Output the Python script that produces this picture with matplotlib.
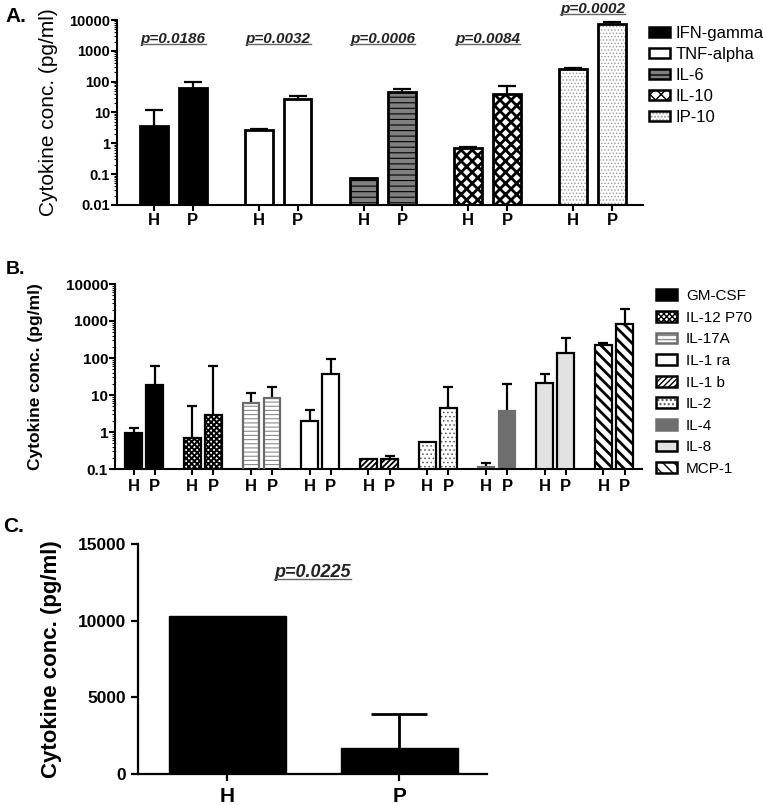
import matplotlib
matplotlib.use('Agg')
import matplotlib.pyplot as plt
import numpy as np
from matplotlib.patches import Patch
from matplotlib.legend_handler import HandlerTuple
from matplotlib.lines import Line2D
from matplotlib.ticker import FixedLocator, LogLocator, NullFormatter
from matplotlib import font_manager as fm

plt.rcParams['font.family'] = ['Liberation Sans', 'DejaVu Sans']
_names = {f.name for f in fm.fontManager.ttflist}
NARROW = 'Liberation Sans Narrow' if 'Liberation Sans Narrow' in _names else 'Liberation Sans'

# ---------------- data ----------------
groups_label = ['H', 'P']

A_cytokines = ['IFN-gamma', 'TNF-alpha', 'IL-6', 'IL-10', 'IP-10']
A_H = [3.6, 2.7, 0.076, 0.70, 260]
A_H_err = [8.4, 0.3, 0.0, 0.08, 15]
A_P = [62, 27, 45, 40, 7400]
A_P_err = [33, 8, 12, 32, 1500]
A_pvals = ['p=0.0186', 'p=0.0032', 'p=0.0006', 'p=0.0084', 'p=0.0002']
A_yticks = [0.01, 0.1, 1, 10, 100, 1000, 10000]
A_yticklabels = ['0.01', '0.1', '1', '10', '100', '1000', '10000']

B_cytokines = ['GM-CSF', 'IL-12 P70', 'IL-17A', 'IL-1 ra', 'IL-1 b', 'IL-2', 'IL-4', 'IL-8', 'MCP-1']
B_H = [0.93, 0.70, 6.0, 2.0, 0.19, 0.54, 0.11, 21, 225]
B_H_err = [0.37, 4.3, 5.0, 1.9, 0.0, 0.0, 0.035, 16, 25]
B_P = [18.6, 2.9, 8.3, 37, 0.19, 4.4, 3.7, 137, 830]
B_P_err = [41, 57, 7.7, 56, 0.03, 11.6, 16.3, 213, 1270]
B_yticks = [0.1, 1, 10, 100, 1000, 10000]
B_yticklabels = ['0.1', '1', '10', '100', '1000', '10000']

C_groups = ['H', 'P']
C_vals = [10300, 1700]
C_err = [0, 2200]
C_pval = 'p=0.0225'
C_yticks = [0, 5000, 10000, 15000]

# ---------------- styles ----------------
STY = {
    'IFN-gamma': dict(face='black', edge='black'),
    'TNF-alpha': dict(face='white', edge='black'),
    'IL-6': dict(face='#808080', edge='black', hatch='---', hlw=0.8),
    'IL-10': dict(face='white', edge='black', hatch='xxx', hlw=2.0),
    'IP-10': dict(face='white', edge='black', hatch='.....', hlw=0.6, hcol='#9a9a9a'),
    'GM-CSF': dict(face='black', edge='black'),
    'IL-12 P70': dict(face='white', edge='black', hatch='xxxxxx', hlw=1.4),
    'IL-17A': dict(face='white', edge='#6a6a6a', hatch='----', hlw=0.8, hcol='#8a8a8a'),
    'IL-1 ra': dict(face='white', edge='black'),
    'IL-1 b': dict(face='white', edge='black', hatch='//////', hlw=1.3),
    'IL-2': dict(face='white', edge='black', hatch='....', hlw=0.6, hcol='#555555'),
    'IL-4': dict(face='#6e6e6e', edge='#6e6e6e'),
    'IL-8': dict(face='#e2e2e2', edge='black'),
    'MCP-1': dict(face='white', edge='black', hatch='\\\\\\', hlw=2.0),
}


def _hlw(p, lw):
    if hasattr(p, 'set_hatch_linewidth'):
        p.set_hatch_linewidth(lw)


def draw_bar(ax, x, val, st, width, lw):
    hatch = st.get('hatch')
    if hatch and st.get('hcol'):
        b1 = ax.bar([x], [val], width=width, color=st['face'], edgecolor=st['hcol'],
                    hatch=hatch, linewidth=0, zorder=2)
        for p in b1:
            _hlw(p, st.get('hlw', 1.0))
        ax.bar([x], [val], width=width, facecolor='none', edgecolor=st['edge'],
               linewidth=lw, zorder=3)
    else:
        b = ax.bar([x], [val], width=width, color=st['face'], edgecolor=st['edge'],
                   hatch=hatch, linewidth=lw, zorder=2)
        if hatch:
            for p in b:
                _hlw(p, st.get('hlw', 1.0))


def legend_handle(st, lw):
    hatch = st.get('hatch')
    if hatch and st.get('hcol'):
        p1 = Patch(facecolor=st['face'], edgecolor=st['hcol'], hatch=hatch, linewidth=0)
        _hlw(p1, st.get('hlw', 1.0))
        p2 = Patch(facecolor='none', edgecolor=st['edge'], linewidth=lw)
        return (p1, p2)
    p = Patch(facecolor=st['face'], edgecolor=st['edge'], hatch=hatch, linewidth=lw)
    if hatch:
        _hlw(p, st.get('hlw', 1.0))
    return p


def errbars(ax, xs, vals, errs, lw, cap):
    xs = np.asarray(xs, float)
    vals = np.asarray(vals, float)
    errs = np.asarray(errs, float)
    m = errs > 0
    if m.any():
        cont = ax.errorbar(xs[m], vals[m], yerr=[np.zeros(m.sum()), errs[m]], fmt='none',
                           ecolor='black', elinewidth=lw, capsize=cap, capthick=lw, zorder=1)
        # hide the lower caps (they sit at the bar tops)
        for cl in cont[1]:
            yd = np.asarray(cl.get_ydata(), float)
            if np.allclose(yd, vals[m]):
                cl.set_visible(False)


def style_axes(ax, spine_lw=1.5):
    for s in ['top', 'right']:
        ax.spines[s].set_visible(False)
    for s in ['left', 'bottom']:
        ax.spines[s].set_linewidth(spine_lw)
    ax.tick_params(which='major', direction='out', width=spine_lw, color='black')


W, H = 763, 805
fig = plt.figure(figsize=(W / 100, H / 100), dpi=100)


def fig_ax(l, r, t, b):
    return fig.add_axes([l / W, 1 - b / H, (r - l) / W, (b - t) / H])


# ---------------- Panel A ----------------
axA = fig_ax(117, 643, 20, 205)
gA, dA, wA = 2.7, 1.0, 0.72
xA_H = [i * gA for i in range(len(A_cytokines))]
xA_P = [i * gA + dA for i in range(len(A_cytokines))]
for i, c in enumerate(A_cytokines):
    draw_bar(axA, xA_H[i], A_H[i], STY[c], wA, 2.0)
    draw_bar(axA, xA_P[i], A_P[i], STY[c], wA, 2.0)
errbars(axA, xA_H, A_H, A_H_err, 1.6, 6.5)
errbars(axA, xA_P, A_P, A_P_err, 1.6, 6.5)
axA.set_yscale('log')
axA.set_ylim(0.01, 10000)
axA.set_xlim(-0.95, 12.6)
style_axes(axA)
axA.yaxis.set_major_locator(FixedLocator(A_yticks))
axA.set_yticklabels(A_yticklabels, fontsize=10.5, fontweight='bold')
axA.yaxis.set_minor_locator(LogLocator(base=10, subs=np.arange(2, 10), numticks=20))
axA.yaxis.set_minor_formatter(NullFormatter())
axA.tick_params(axis='y', which='major', length=4, pad=1)
axA.tick_params(axis='y', which='minor', length=2, width=0.8)
xt = sorted(xA_H + xA_P)
axA.set_xticks(xt)
axA.set_xticklabels(groups_label * len(A_cytokines), fontsize=12, fontweight='bold')
axA.tick_params(axis='x', length=4, pad=2)
axA.set_ylabel('Cytokine conc. (pg/ml)', fontsize=15)
axA.yaxis.set_label_coords((58 - 117) / 526, 0.5)

p_texts = []
pA_y = [0.897, 0.897, 0.897, 0.897, 1.06]
for i, p in enumerate(A_pvals):
    xc = (xA_H[i] + xA_P[i]) / 2
    t = axA.text(xc, pA_y[i], p, transform=axA.get_xaxis_transform(), ha='center',
                 va='center', fontsize=11, fontweight='bold', fontstyle='italic',
                 color='#222222', clip_on=False)
    p_texts.append(t)

hA = [legend_handle(STY[c], 1.8) for c in A_cytokines]
fig.legend(hA, A_cytokines, loc='upper left', bbox_to_anchor=(649 / W, 1 - 26 / H),
           frameon=False, fontsize=12, handlelength=1.26, handleheight=0.6,
           handletextpad=0.35, labelspacing=0.36, borderpad=0, borderaxespad=0,
           handler_map={tuple: HandlerTuple(ndivide=1)})

# ---------------- Panel B ----------------
axB = fig_ax(115, 642, 284, 469)
gB, dB, wB = 2.79, 1.0, 0.8
xB_H = [i * gB for i in range(len(B_cytokines))]
xB_P = [i * gB + dB for i in range(len(B_cytokines))]
for i, c in enumerate(B_cytokines):
    draw_bar(axB, xB_H[i], B_H[i], STY[c], wB, 1.6)
    draw_bar(axB, xB_P[i], B_P[i], STY[c], wB, 1.6)
errbars(axB, xB_H, B_H, B_H_err, 1.6, 3.6)
errbars(axB, xB_P, B_P, B_P_err, 1.6, 3.6)
axB.set_yscale('log')
axB.set_ylim(0.1, 10000)
axB.set_xlim(-0.88, 8 * gB + 1 + 0.83)
style_axes(axB)
axB.yaxis.set_major_locator(FixedLocator(B_yticks))
axB.set_yticklabels(B_yticklabels, fontsize=11, fontweight='bold')
axB.yaxis.set_minor_locator(LogLocator(base=10, subs=np.arange(2, 10), numticks=20))
axB.yaxis.set_minor_formatter(NullFormatter())
axB.tick_params(axis='y', which='major', length=4, pad=1)
axB.tick_params(axis='y', which='minor', length=2, width=0.8)
xtB = sorted(xB_H + xB_P)
axB.set_xticks(xtB)
axB.set_xticklabels(groups_label * len(B_cytokines), fontsize=12, fontweight='bold')
axB.tick_params(axis='x', length=4, pad=3)
axB.set_ylabel('Cytokine conc. (pg/ml)', fontsize=12.5, fontweight='bold')
axB.yaxis.set_label_coords((43 - 115) / 527, 0.5)

hB = [legend_handle(STY[c], 1.8) for c in B_cytokines]
fig.legend(hB, B_cytokines, loc='upper left', bbox_to_anchor=(656 / W, 1 - 289 / H),
           frameon=False, fontsize=11, handlelength=1.37, handleheight=0.7,
           handletextpad=0.6, labelspacing=0.5, borderpad=0, borderaxespad=0,
           handler_map={tuple: HandlerTuple(ndivide=1)})

# ---------------- Panel C ----------------
axC = fig_ax(138, 487, 544, 774)
xC = list(range(len(C_groups)))
axC.bar(xC, C_vals, width=0.68, color='black', edgecolor='black', zorder=2)
errbars(axC, xC, C_vals, C_err, 2.0, 20)
axC.set_ylim(0, 15000)
axC.set_xlim(-0.52, 1.51)
style_axes(axC, 1.6)
axC.set_yticks(C_yticks)
axC.set_yticklabels([str(v) for v in C_yticks], fontsize=12.5, fontweight='bold',
                    family=NARROW)
axC.set_xticks(xC)
axC.set_xticklabels(C_groups, fontsize=15, fontweight='bold', family=NARROW)
axC.tick_params(axis='y', length=5, pad=3.5)
axC.tick_params(axis='x', length=5, pad=4)
axC.set_ylabel('Cytokine conc. (pg/ml)', fontsize=16, fontweight='bold', family=NARROW)
axC.yaxis.set_label_coords((62 - 138) / 349, 0.5)
tC = axC.text(0.5, 0.878, C_pval, transform=axC.transAxes, ha='center', va='center',
              fontsize=13, fontweight='bold', fontstyle='italic', color='#222222',
              family=NARROW)
p_texts.append(tC)

# panel letters
fig.text(5 / W, 1 - 16 / H, 'A.', fontsize=15, fontweight='bold', va='center')
fig.text(6 / W, 1 - 270 / H, 'B.', fontsize=14, fontweight='bold', va='center')
fig.text(3 / W, 1 - 526 / H, 'C.', fontsize=15, fontweight='bold', va='center')

# underline p-values
fig.canvas.draw()
for t in p_texts:
    bb = t.get_window_extent()
    yb = bb.y0 + 2.0
    fig.add_artist(Line2D([bb.x0 / W, bb.x1 / W], [yb / H, yb / H],
                          transform=fig.transFigure, color='#666666', lw=1.0))

fig.savefig('out.png', dpi=100)
